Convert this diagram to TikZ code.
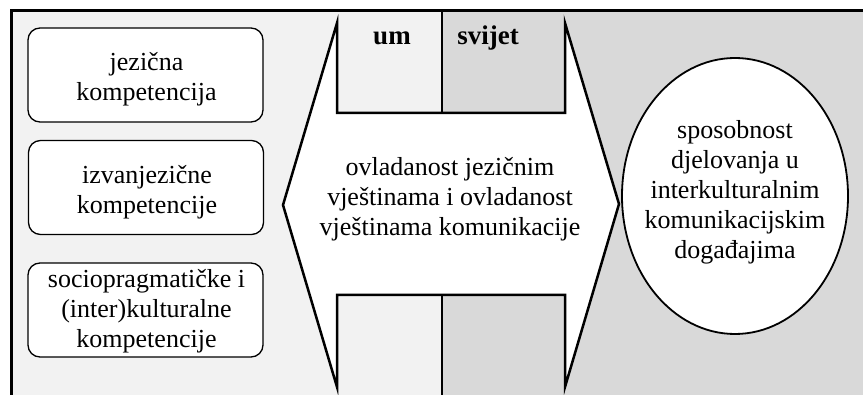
\documentclass[tikz,border=0pt]{standalone}
\usepackage{fontspec}
\setmainfont{Liberation Serif}
\usetikzlibrary{shapes.geometric}
\definecolor{paneLeft}{HTML}{F2F2F2}
\definecolor{paneRight}{HTML}{D9D9D9}
\begin{document}
\begin{tikzpicture}[x=1pt,y=-1pt,
  txt/.style={font=\fontsize{26}{30}\selectfont, align=center, inner sep=0pt},
  head/.style={font=\fontsize{27}{30}\selectfont\bfseries, inner sep=0pt, anchor=base},
  compbox/.style={draw, line width=1.3pt, rounded corners=12pt, fill=white,
    minimum width=235pt, minimum height=94pt, inner sep=0pt},
  bigarrow/.style={draw, line width=2.5pt, fill=white, line join=miter, miter limit=20},
  goalshape/.style={ellipse, draw, line width=1.8pt, fill=white,
    minimum width=226pt, minimum height=276pt, inner sep=0pt}]
\useasboundingbox (0,0) rectangle (863,395);

% two panes: mind (left) and world (right)
\fill[paneLeft] (11,11) rectangle (442,395);
\fill[paneRight] (442,11) rectangle (863,395);
\draw[line width=2.5pt] (442,11) -- (442,395);
\draw[line width=3pt] (11,395) -- (11,11) -- (863,11);

% double-headed arrow with notches
\coordinate (tl) at (337,23);
\coordinate (tr) at (565,23);
\coordinate (bl) at (337,387);
\coordinate (br) at (565,387);
\coordinate (lt) at (283,205);
\coordinate (rt) at (619,204);
\draw[bigarrow] (tl) -- (337,113) -- (565,113) -- (tr) -- (rt) -- (br)
  -- (565,295) -- (337,295) -- (bl) -- (lt) -- cycle;

\node[head] (um) at (392,45) {um};
\node[head] (svijet) at (488,45) {svijet};

\node[txt] (skills) at (450,199.5) {ovladanost jezičnim\\vještinama i ovladanost\\vještinama komunikacije};

% competences on the left
\node[compbox] (c1) at (145.5,75) {};
\node[compbox] (c2) at (146,187.5) {};
\node[compbox] (c3) at (145.5,310) {};
\node[txt] (t1) at (146.5,79.5) {jezična\\kompetencija};
\node[txt] (t2) at (147,192) {izvanjezične\\kompetencije};
\node[txt] (t3) at (146.5,311) {sociopragmatičke i\\(inter)kulturalne\\kompetencije};

% outcome
\node[goalshape] (goal) at (735,196) {};
\node[txt] (tg) at (735,192) {sposobnost\\djelovanja u\\interkulturalnim\\komunikacijskim\\događajima};
\end{tikzpicture}
\end{document}
